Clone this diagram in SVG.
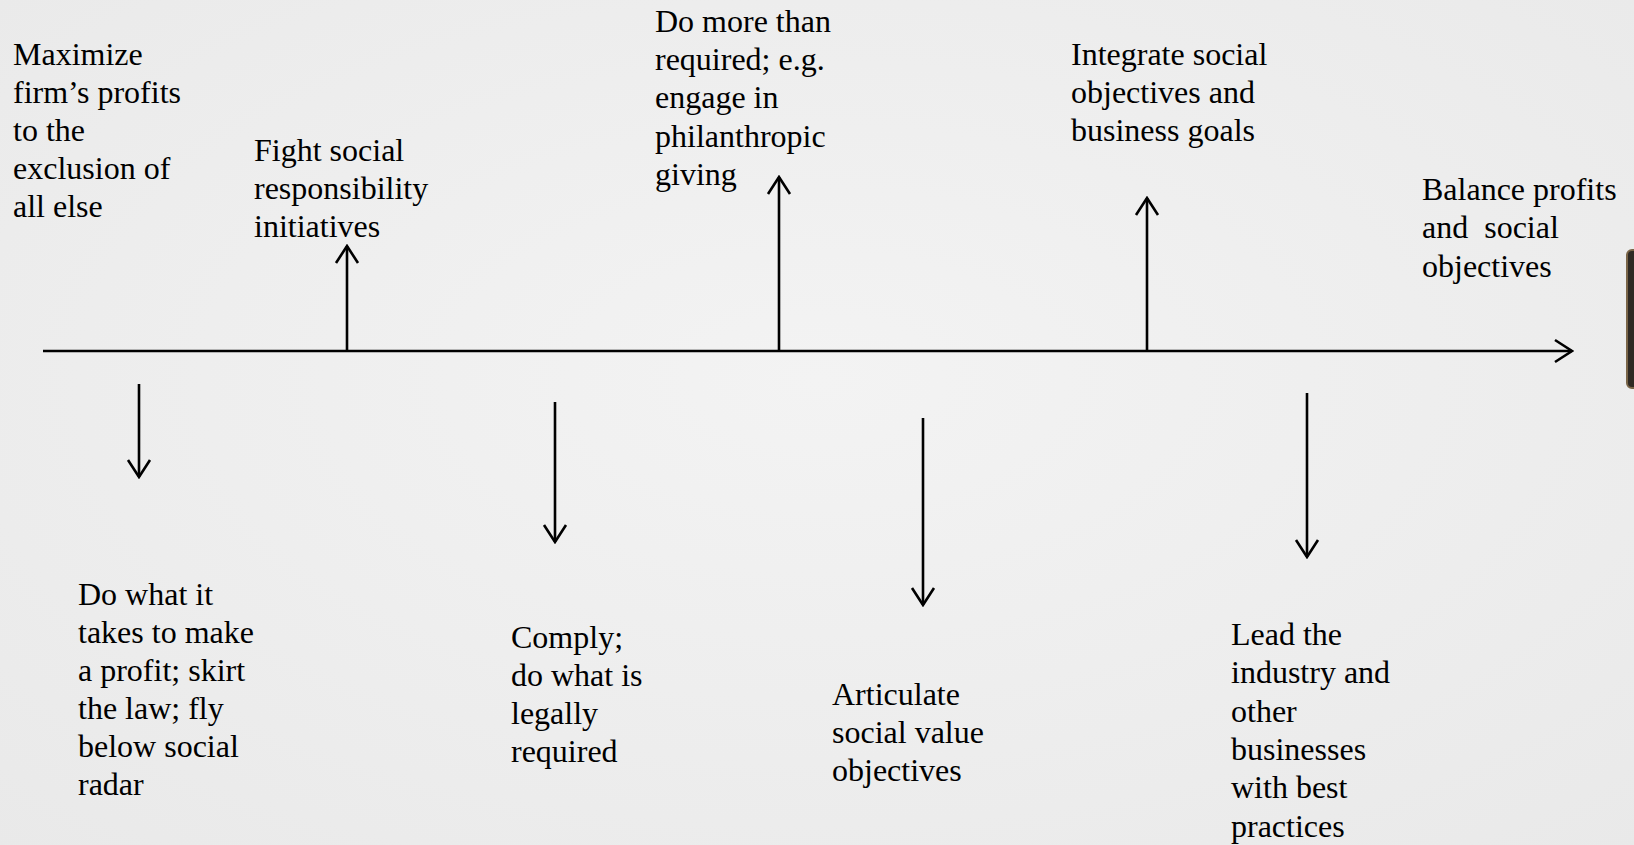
<svg xmlns="http://www.w3.org/2000/svg" width="1634" height="845" viewBox="0 0 1634 845">
<defs>
<style>
.t{font-family:"Liberation Serif","Times New Roman",serif;font-size:32px;fill:#000}
.c{stroke:#000;stroke-width:2.6;fill:none}
</style>
<marker id="ah" markerUnits="userSpaceOnUse" viewBox="-20 -13 22 26" refX="0" refY="0" markerWidth="22" markerHeight="26" orient="auto">
<path d="M-17,-11 L0,0 L-17,11" fill="none" stroke="#000" stroke-width="2.6"/>
</marker>
<radialGradient id="bg" cx="50%" cy="45%" r="75%">
<stop offset="0" stop-color="#f3f3f3"/>
<stop offset="1" stop-color="#e9e9e9"/>
</radialGradient>
</defs>
<rect x="0" y="0" width="1634" height="845" fill="url(#bg)"/>
<rect x="1627" y="250" width="20" height="138" rx="5" fill="#2f2a24" stroke="#7a6548" stroke-width="2"/>
<g id="connectors">
<line class="c" x1="43" y1="351" x2="1572" y2="351" marker-end="url(#ah)"/>
<line class="c" x1="347" y1="351" x2="347" y2="246" marker-end="url(#ah)"/>
<line class="c" x1="779" y1="351" x2="779" y2="177" marker-end="url(#ah)"/>
<line class="c" x1="1147" y1="351" x2="1147" y2="198" marker-end="url(#ah)"/>
<line class="c" x1="139" y1="384" x2="139" y2="477" marker-end="url(#ah)"/>
<line class="c" x1="555" y1="402" x2="555" y2="542" marker-end="url(#ah)"/>
<line class="c" x1="923" y1="418" x2="923" y2="605" marker-end="url(#ah)"/>
<line class="c" x1="1307" y1="393" x2="1307" y2="557" marker-end="url(#ah)"/>
</g>
<g id="maximize">
<text class="t" x="13" y="65">Maximize</text>
<text class="t" x="13" y="103">firm’s profits</text>
<text class="t" x="13" y="141">to the</text>
<text class="t" x="13" y="179">exclusion of</text>
<text class="t" x="13" y="217">all else</text>
</g>
<g id="fight">
<text class="t" x="254" y="161">Fight social</text>
<text class="t" x="254" y="199">responsibility</text>
<text class="t" x="254" y="237">initiatives</text>
</g>
<g id="domore">
<text class="t" x="655" y="32">Do more than</text>
<text class="t" x="655" y="70">required; e.g.</text>
<text class="t" x="655" y="108">engage in</text>
<text class="t" x="655" y="147">philanthropic</text>
<text class="t" x="655" y="185">giving</text>
</g>
<g id="integrate">
<text class="t" x="1071" y="65">Integrate social</text>
<text class="t" x="1071" y="103">objectives and</text>
<text class="t" x="1071" y="141">business goals</text>
</g>
<g id="balance">
<text class="t" x="1422" y="200">Balance profits</text>
<text class="t" x="1422" y="238" xml:space="preserve">and  social</text>
<text class="t" x="1422" y="277">objectives</text>
</g>
<g id="dowhat">
<text class="t" x="78" y="605">Do what it</text>
<text class="t" x="78" y="643">takes to make</text>
<text class="t" x="78" y="681">a profit; skirt</text>
<text class="t" x="78" y="719">the law; fly</text>
<text class="t" x="78" y="757">below social</text>
<text class="t" x="78" y="795">radar</text>
</g>
<g id="comply">
<text class="t" x="511" y="648">Comply;</text>
<text class="t" x="511" y="686">do what is</text>
<text class="t" x="511" y="724">legally</text>
<text class="t" x="511" y="762">required</text>
</g>
<g id="articulate">
<text class="t" x="832" y="705">Articulate</text>
<text class="t" x="832" y="743">social value</text>
<text class="t" x="832" y="781">objectives</text>
</g>
<g id="lead">
<text class="t" x="1231" y="645">Lead the</text>
<text class="t" x="1231" y="683">industry and</text>
<text class="t" x="1231" y="722">other</text>
<text class="t" x="1231" y="760">businesses</text>
<text class="t" x="1231" y="798">with best</text>
<text class="t" x="1231" y="837">practices</text>
</g>
</svg>
